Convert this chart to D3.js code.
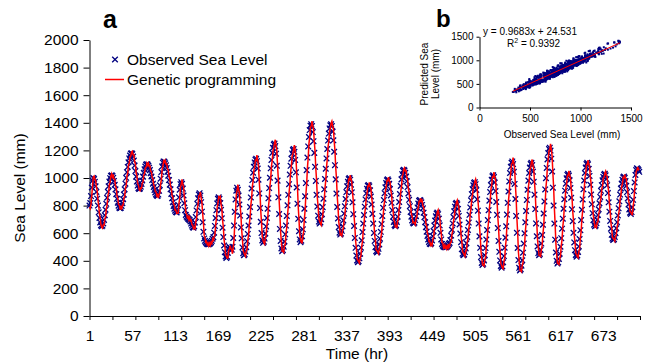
<!DOCTYPE html>
<html>
<head>
<meta charset="utf-8">
<script src="https://cdn.jsdelivr.net/npm/d3@7"></script>
<style>
	body { margin: 0; background: #fff; }
	svg { display: block; font-family: 'Liberation Sans', Arial, sans-serif; }
</style>
</head>
<body>
<div id="chart"></div>
<script>
// hourly observed sea level (mm), hours 1..720
const observedSeaLevel = [
	800,819,869,931,981,1000,
	993,972,940,899,850,800,751,710,678,657,650,
	655,671,696,730,770,813,857,900,940,974,999,1015,1020,
	1015,1001,979,951,917,883,849,821,799,785,780,
	784,797,818,846,880,918,959,1001,1042,1080,1114,1142,1163,1176,1180,
	1174,1155,1126,1090,1050,1010,974,945,926,920,
	924,937,957,982,1010,1038,1063,1083,1096,1100,
	1097,1089,1075,1057,1035,1011,985,959,935,913,895,881,873,870,
	880,907,947,995,1043,1084,1111,1120,
	1117,1107,1092,1072,1046,1017,985,952,918,885,853,824,798,778,763,753,750,
	765,805,860,915,955,970,
	958,923,873,817,767,732,720,712,705,700,696,685,670,655,644,640,
	650,677,717,765,813,853,880,890,
	873,825,756,679,610,562,545,535,528,522,520,520,523,528,535,545,560,571,604,653,710,767,816,849,860,
	849,818,769,708,640,572,511,462,431,420,
	430,458,488,500,495,487,480,502,565,655,755,845,908,930,
	915,873,808,728,642,563,497,455,440,
	447,467,499,542,595,656,721,790,859,924,985,1038,1081,1113,1133,1140,
	1122,1069,988,888,782,682,601,548,530,
	538,561,598,649,710,778,853,927,1002,1070,1131,1182,1219,1242,1250,
	1231,1176,1089,981,860,739,631,544,489,470,
	478,502,540,592,655,725,802,878,955,1025,1088,1140,1178,1202,1210,
	1190,1131,1041,931,814,704,614,555,535,
	546,578,628,696,777,868,963,1057,1148,1229,1297,1347,1379,1390,
	1376,1333,1267,1182,1081,979,878,793,727,684,670,
	678,701,738,789,850,918,993,1067,1142,1210,1271,1322,1359,1382,1390,
	1376,1336,1273,1190,1093,990,887,790,707,644,604,590,
	597,617,650,693,742,795,848,898,940,972,993,1000,
	988,952,896,824,738,652,566,494,438,402,390,
	397,418,451,495,548,608,670,732,792,845,889,922,943,950,
	940,911,866,808,740,670,602,544,499,470,460,
	467,487,518,560,610,666,725,784,840,890,932,964,983,990,
	982,958,920,873,820,767,720,682,658,650,
	658,682,720,768,826,884,942,990,1028,1052,1060,
	1054,1038,1011,976,934,888,842,796,754,719,692,676,670,
	676,695,723,755,787,815,834,840,
	836,824,805,780,749,716,680,644,611,580,555,536,524,520,
	527,547,578,615,655,692,723,743,750,
	738,705,657,603,555,522,510,503,500,498,498,500,505,512,522,529,550,583,625,671,717,759,792,813,820,
	809,776,725,663,597,535,484,451,440,
	446,463,490,527,573,623,677,733,787,838,883,920,947,964,970,
	955,913,846,763,670,577,494,427,385,370,
	378,403,441,492,554,623,695,767,836,898,949,988,1012,1020,
	1007,967,905,826,733,637,544,465,403,363,350,
	360,389,434,495,568,650,735,820,902,975,1036,1082,1110,1120,
	1101,1045,957,848,725,603,493,405,349,330,
	339,364,404,459,525,599,679,761,841,915,981,1036,1076,1101,1110,
	1094,1046,972,879,775,671,578,504,456,440,
	450,479,525,587,661,743,830,917,999,1073,1135,1181,1210,1220,
	1199,1140,1047,930,800,670,553,460,400,380,
	388,413,451,502,564,633,705,777,846,908,959,998,1022,1030,
	1018,983,927,857,773,687,603,533,477,442,430,
	439,464,504,558,622,695,770,845,918,982,1036,1076,1101,1110,
	1099,1066,1015,951,880,809,745,694,661,650,
	656,672,698,732,773,817,863,907,948,983,1008,1024,1030,
	1020,992,948,891,824,756,689,632,588,560,550,
	556,573,600,636,680,729,780,831,880,924,960,987,1004,1010,
	1002,978,943,898,852,808,772,748,740,
	753,788,842,905,968,1022,1057,1070,1066,1058,1045
];

// GP prediction minus observation (mm), same hours
const gpResidual = [
	-11,-40,-55,-53,-37,9,
	22,20,44,37,59,42,53,29,33,4,-7,
	-18,-11,-37,-26,-53,-35,-55,-31,-44,-20,-29,0,11,
	-7,26,15,40,24,44,20,33,9,18,-9,
	4,-26,-15,-42,-24,-51,-31,-55,-29,-44,-20,-33,-7,-18,9,
	20,13,42,29,51,26,42,15,22,-4,
	-15,-9,-31,-20,-37,-18,-29,-9,-18,7,
	-4,18,9,29,13,33,18,35,13,26,7,18,-2,9,
	-26,-24,-57,-37,-55,-22,-26,4,
	-2,20,9,31,18,42,24,44,22,42,20,37,13,26,4,15,-7,
	-20,-59,-44,-62,-20,-15,
	33,31,66,44,53,15,20,0,15,-4,18,4,24,7,15,-7,
	-9,-44,-33,-59,-35,-42,-9,-13,
	26,33,68,62,66,24,22,0,13,-4,9,-11,4,-15,0,-20,-4,-31,-31,-64,-46,-64,-29,-31,4,
	9,48,44,75,57,73,44,48,11,13,
	-11,-37,-11,-13,15,0,0,-51,-66,-106,-84,-88,-31,-20,
	37,44,84,70,92,62,62,20,18,
	-4,-35,-29,-59,-46,-73,-55,-79,-55,-73,-46,-59,-26,-35,-4,-13,
	44,57,101,90,112,79,75,26,18,
	-7,-40,-33,-66,-53,-81,-64,-86,-59,-75,-44,-55,-20,-24,4,
	46,62,108,103,130,103,108,59,46,0,
	-7,-40,-33,-68,-55,-84,-66,-88,-62,-77,-46,-55,-20,-24,4,
	48,66,110,101,123,88,84,31,18,
	-13,-48,-48,-86,-75,-103,-84,-103,-75,-86,-48,-51,-11,-13,
	37,46,86,81,112,90,103,64,66,20,15,
	-7,-42,-31,-68,-51,-81,-66,-84,-62,-73,-46,-53,-22,-22,7,
	35,42,84,79,110,90,110,79,84,40,35,-2,
	-4,-35,-26,-57,-40,-64,-40,-57,-26,-35,-2,-13,
	33,37,75,68,97,75,90,53,57,13,15,
	-4,-35,-29,-59,-44,-70,-51,-70,-46,-59,-29,-35,-2,-11,
	29,29,62,51,79,57,73,40,48,9,13,
	-4,-35,-26,-57,-42,-68,-48,-68,-42,-57,-26,-35,-2,-11,
	24,22,53,40,64,40,53,20,24,-4,
	-7,-40,-33,-64,-46,-68,-42,-53,-20,-24,4,
	20,13,42,29,55,35,57,33,51,20,29,0,11,
	-2,-33,-20,-42,-20,-33,-4,-11,
	18,7,33,18,42,24,46,24,42,18,31,4,18,-7,
	-4,-35,-22,-51,-29,-44,-15,-22,7,
	31,31,62,40,48,11,20,-7,11,-11,9,-13,2,-20,0,-24,-18,-48,-33,-57,-33,-48,-15,-22,7,
	31,33,66,53,75,44,53,13,15,
	-2,-31,-20,-53,-37,-64,-44,-66,-42,-59,-29,-40,-11,-20,7,
	37,46,86,77,103,77,86,44,37,0,
	-7,-40,-33,-66,-53,-81,-59,-81,-55,-66,-33,-40,-4,-13,
	35,42,81,75,106,84,97,59,62,18,15,
	-11,-46,-42,-77,-66,-95,-73,-95,-66,-77,-42,-46,-9,-13,
	46,62,110,103,132,103,110,59,46,0,
	-9,-42,-37,-70,-59,-88,-68,-90,-66,-81,-48,-59,-22,-26,4,
	40,51,95,88,114,88,95,48,40,0,
	-11,-46,-42,-79,-66,-95,-75,-95,-66,-79,-42,-46,-9,-13,
	48,66,114,112,139,112,114,66,48,2,
	-9,-40,-33,-66,-55,-81,-59,-81,-55,-68,-33,-40,-4,-13,
	33,37,73,66,95,73,88,51,57,13,15,
	-9,-42,-35,-70,-57,-84,-64,-84,-57,-70,-35,-42,-7,-13,
	31,33,68,57,81,57,68,31,31,-4,
	-2,-29,-20,-48,-31,-55,-33,-53,-26,-42,-9,-20,7,
	29,26,62,51,79,57,73,40,46,9,13,
	-2,-31,-20,-51,-35,-62,-40,-62,-35,-51,-20,-31,0,-11,
	24,22,51,35,55,29,42,7,13,
	-15,-53,-46,-73,-48,-55,-13,-13,15,2,22
];

const yTickValues = [0, 200, 400, 600, 800, 1000, 1200, 1400, 1600, 1800, 2000];
const xTickValues = [1, 31, 61, 91, 121, 151, 181, 211, 241, 271, 301, 331, 361, 391, 421, 451, 481, 511, 541, 571, 601, 631, 661, 691, 721];
const xTickLabels = [1, 57, 113, 169, 225, 281, 337, 393, 449, 505, 561, 617, 673];
const scatterTicks = [0, 500, 1000, 1500];
const fitSlope = 0.9683;
const fitIntercept = 24.531;
const fitText = 'y = 0.9683x + 24.531';
const r2Text = ' = 0.9392';
const seriesNames = ['Observed Sea Level', 'Genetic programming'];

const navy = '#000080';
const red = '#ff0000';
const plain = d3.format('d');

const rows = observedSeaLevel.map((v, i) => ({ hour: i + 1, obs: v, gp: v + gpResidual[i] }));

const svg = d3.select('#chart').append('svg').attr('width', 656).attr('height', 363);

// ---- panel a ----
const x = d3.scaleLinear().domain([1, 721]).range([89.5, 640]);
const y = d3.scaleLinear().domain([0, 2000]).range([316, 40]);

const yAxis = svg.append('g')
	.attr('transform', 'translate(89.5,0)')
	.call(d3.axisLeft(y).tickValues(yTickValues).tickFormat(plain).tickSize(6).tickSizeOuter(0).tickPadding(5));
yAxis.selectAll('text').style('font-size', '15.5px').attr('fill', '#000');

svg.append('g')
	.attr('transform', 'translate(0,316)')
	.call(d3.axisBottom(x).tickValues(xTickValues).tickSize(4).tickSizeOuter(0).tickFormat(''));

const xLab = svg.append('g')
	.attr('transform', 'translate(0,316)')
	.call(d3.axisBottom(x).tickValues(xTickLabels).tickFormat(plain).tickSize(0).tickPadding(14));
xLab.select('.domain').remove();
xLab.selectAll('text').style('font-size', '15.5px').attr('fill', '#000');

svg.append('text')
	.attr('x', 357)
	.attr('y', 359)
	.attr('text-anchor', 'middle')
	.style('font-size', '15.5px')
	.text('Time (hr)');

svg.append('text')
	.attr('transform', 'translate(25,188) rotate(-90)')
	.attr('text-anchor', 'middle')
	.style('font-size', '15.5px')
	.text('Sea Level (mm)');

svg.append('text')
	.attr('x', 103)
	.attr('y', 28)
	.style('font-size', '25px')
	.style('font-weight', 'bold')
	.text('a');

const cross = 'M-2.8,-2.8L2.8,2.8M-2.8,2.8L2.8,-2.8';

svg.append('g')
	.selectAll('path')
	.data(rows)
	.enter()
	.append('path')
	.attr('transform', (d) => 'translate(' + x(d.hour) + ',' + y(d.obs) + ')')
	.attr('d', cross)
	.attr('stroke', navy)
	.attr('stroke-width', 1.3)
	.attr('fill', 'none');

svg.append('path')
	.datum(rows)
	.attr('fill', 'none')
	.attr('stroke', red)
	.attr('stroke-width', 1.5)
	.attr('d', d3.line().x((d) => x(d.hour)).y((d) => y(d.gp)));

// legend
svg.append('path')
	.attr('transform', 'translate(115,59.5)')
	.attr('d', cross)
	.attr('stroke', navy)
	.attr('stroke-width', 1.3)
	.attr('fill', 'none');
svg.append('line')
	.attr('x1', 105).attr('x2', 124)
	.attr('y1', 79.5).attr('y2', 79.5)
	.attr('stroke', red)
	.attr('stroke-width', 1.5);
svg.selectAll('.legendText')
	.data(seriesNames)
	.enter()
	.append('text')
	.attr('x', 127)
	.attr('y', (d, i) => 65 + i * 20)
	.style('font-size', '15.5px')
	.text((d) => d);

// ---- panel b ----
const xs = d3.scaleLinear().domain([0, 1500]).range([479.5, 631]);
const ys = d3.scaleLinear().domain([0, 1500]).range([107.5, 36.7]);

const bx = svg.append('g')
	.attr('transform', 'translate(0,107.5)')
	.call(d3.axisBottom(xs).tickValues(scatterTicks).tickFormat(plain).tickSize(3).tickSizeOuter(0).tickPadding(4));
bx.selectAll('text').style('font-size', '10px').attr('fill', '#000');

const by = svg.append('g')
	.attr('transform', 'translate(479.5,0)')
	.call(d3.axisLeft(ys).tickValues(scatterTicks).tickFormat(plain).tickSize(3).tickSizeOuter(0).tickPadding(3));
by.selectAll('text').style('font-size', '10px').attr('fill', '#000');
svg.selectAll('.domain').attr('stroke', '#000');

svg.append('g')
	.selectAll('rect')
	.data(rows)
	.enter()
	.append('rect')
	.attr('x', (d) => xs(d.obs) - 1)
	.attr('y', (d) => ys(d.gp) - 1)
	.attr('width', 2)
	.attr('height', 2)
	.attr('fill', navy);

const obsExtent = d3.extent(observedSeaLevel);
svg.append('line')
	.attr('x1', xs(obsExtent[0]))
	.attr('y1', ys(fitSlope * obsExtent[0] + fitIntercept))
	.attr('x2', xs(obsExtent[1]))
	.attr('y2', ys(fitSlope * obsExtent[1] + fitIntercept))
	.attr('stroke', red)
	.attr('stroke-width', 1);

svg.append('text')
	.attr('x', 436)
	.attr('y', 27)
	.style('font-size', '24px')
	.style('font-weight', 'bold')
	.text('b');

svg.append('text')
	.attr('x', 483)
	.attr('y', 35)
	.style('font-size', '10px')
	.text(fitText);

const r2 = svg.append('text')
	.attr('x', 507)
	.attr('y', 47)
	.style('font-size', '10px');
r2.append('tspan').text('R');
r2.append('tspan').attr('dy', -4).style('font-size', '7px').text('2');
r2.append('tspan').attr('dy', 4).text(r2Text);

svg.append('text')
	.attr('transform', 'translate(428,74) rotate(-90)')
	.attr('text-anchor', 'middle')
	.style('font-size', '10px')
	.text('Predicted Sea');
svg.append('text')
	.attr('transform', 'translate(439,74) rotate(-90)')
	.attr('text-anchor', 'middle')
	.style('font-size', '10px')
	.text('Level (mm)');

svg.append('text')
	.attr('x', 562)
	.attr('y', 138)
	.attr('text-anchor', 'middle')
	.style('font-size', '10px')
	.text('Observed Sea Level (mm)');
</script>
</body>
</html>
